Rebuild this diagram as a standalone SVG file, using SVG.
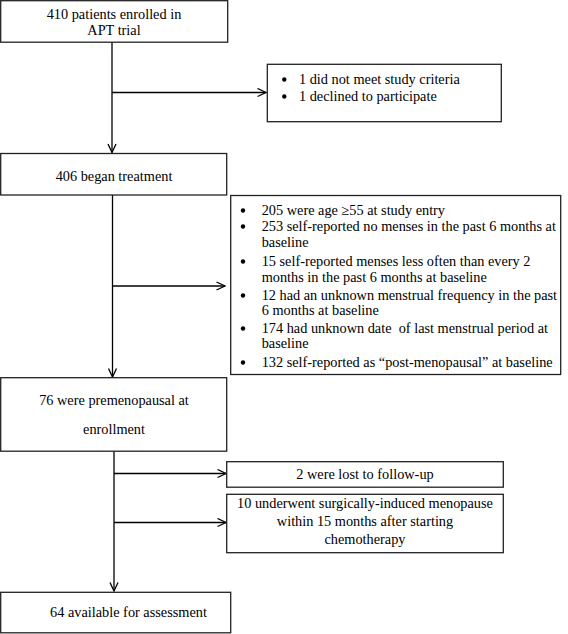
<svg xmlns="http://www.w3.org/2000/svg" width="568" height="634" viewBox="0 0 568 634">
<style>
.box{fill:#fff;stroke:#222;stroke-width:1.3}
.ln{fill:none;stroke:#000;stroke-width:1.3}
text{font-size:14.3px;fill:#000}
.c{text-anchor:middle}
.pre{white-space:pre}
</style>
<defs>
<marker id="arr" viewBox="0 0 10 10" refX="9.5" refY="5" markerWidth="10" markerHeight="10" markerUnits="userSpaceOnUse" orient="auto">
<path d="M1,1 L9.5,5 L1,9" fill="none" stroke="#000" stroke-width="1.3"/>
</marker>
</defs>
<rect width="568" height="634" fill="#fff"/>
<g font-family="Liberation Serif, DejaVu Serif, serif">
<g id="connectors">
<line class="ln" x1="112" y1="42" x2="112" y2="152.5" marker-end="url(#arr)"/>
<line class="ln" x1="112" y1="92.5" x2="266" y2="92.5" marker-end="url(#arr)"/>
<line class="ln" x1="112.5" y1="195" x2="112.5" y2="377" marker-end="url(#arr)"/>
<line class="ln" x1="112.5" y1="286" x2="225" y2="286" marker-end="url(#arr)"/>
<line class="ln" x1="114" y1="451" x2="114" y2="591" marker-end="url(#arr)"/>
<line class="ln" x1="114" y1="473.5" x2="226" y2="473.5" marker-end="url(#arr)"/>
<line class="ln" x1="114" y1="522.5" x2="226" y2="522.5" marker-end="url(#arr)"/>
</g>
<g id="n1">
<rect class="box" x="0.7" y="0.7" width="227" height="41.5"/>
<text class="c" x="114" y="19">410 patients enrolled in</text>
<text class="c" x="114" y="35">APT trial</text>
</g>
<g id="n1x">
<rect class="box" x="267.3" y="64.3" width="234" height="57.4"/>
<circle cx="284.3" cy="79.5" r="2.2"/>
<text x="299" y="84">1 did not meet study criteria</text>
<circle cx="284.3" cy="96.5" r="2.2"/>
<text x="299" y="101">1 declined to participate</text>
</g>
<g id="n2">
<rect class="box" x="0.7" y="153.5" width="226" height="41.5"/>
<text class="c" x="114" y="181">406 began treatment</text>
</g>
<g id="n2x">
<rect class="box" x="230.7" y="195.5" width="330" height="179"/>
<g>
<circle cx="243" cy="210.5" r="2.2"/>
<circle cx="243" cy="226.5" r="2.2"/>
<circle cx="243" cy="261.5" r="2.2"/>
<circle cx="243" cy="295.5" r="2.2"/>
<circle cx="243" cy="328.5" r="2.2"/>
<circle cx="243" cy="362.5" r="2.2"/>
</g>
<text x="261.7" y="215">205 were age ≥55 at study entry</text>
<text x="261.7" y="231">253 self-reported no menses in the past 6 months at</text>
<text x="261.7" y="247">baseline</text>
<text x="261.7" y="266">15 self-reported menses less often than every 2</text>
<text x="261.7" y="282">months in the past 6 months at baseline</text>
<text x="261.7" y="300">12 had an unknown menstrual frequency in the past</text>
<text x="261.7" y="315">6 months at baseline</text>
<text class="pre" x="261.7" y="333">174 had unknown date  of last menstrual period at</text>
<text x="261.7" y="348">baseline</text>
<text x="261.7" y="367">132 self-reported as “post-menopausal” at baseline</text>
</g>
<g id="n3">
<rect class="box" x="0.7" y="377.7" width="226" height="73.5"/>
<text class="c" x="114" y="405">76 were premenopausal at</text>
<text class="c" x="114" y="434">enrollment</text>
</g>
<g id="n3a">
<rect class="box" x="226.7" y="461.7" width="276.6" height="25.5"/>
<text class="c" x="365" y="479">2 were lost to follow-up</text>
</g>
<g id="n3b">
<rect class="box" x="226.7" y="494.3" width="276.6" height="58.4"/>
<text class="c" x="365" y="508">10 underwent surgically-induced menopause</text>
<text class="c" x="365" y="526">within 15 months after starting</text>
<text class="c" x="365" y="544">chemotherapy</text>
</g>
<g id="n4">
<rect class="box" x="0.7" y="592.3" width="230" height="40.5"/>
<text class="c" x="128.5" y="617">64 available for assessment</text>
</g>
</g>
</svg>
